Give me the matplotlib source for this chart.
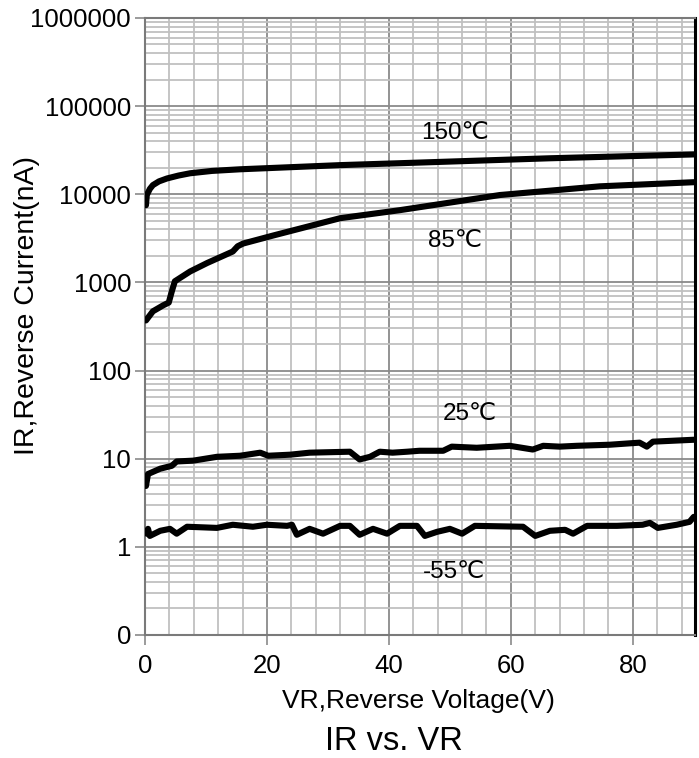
import matplotlib
matplotlib.use("Agg")
import matplotlib.pyplot as plt
import numpy as np
from matplotlib.ticker import FixedLocator, FixedFormatter, LogLocator, MultipleLocator, NullFormatter

plt.rcParams["font.family"] = ["Liberation Sans", "DejaVu Sans"]

# curves: reverse voltage (V) vs reverse current (nA)
v_150 = [0.16, 0.3, 0.8, 1.3, 2.3, 3.6, 5.5, 7.4, 11.0, 15.6, 32.0, 41.8, 66.4, 90.0]
i_150 = [7500, 9800, 11500, 12700, 14000, 15100, 16300, 17300, 18400, 19200, 21400, 22500, 25600, 28300]

v_85 = [0.16, 1.3, 3.0, 3.9, 4.4, 4.9, 7.4, 10.2, 14.4, 15.2, 16.1, 21.0, 32.0, 41.8, 58.2, 74.6, 90.0]
i_85 = [370, 470, 550, 590, 790, 1030, 1330, 1660, 2240, 2570, 2760, 3400, 5350, 6600, 9800, 12300, 13700]

v_25 = [0.16, 0.5, 2.5, 4.4, 5.2, 7.9, 11.8, 15.6, 18.9, 20.2, 23.8, 27.0, 33.6, 35.2, 36.9,
        38.5, 40.6, 43.0, 45.0, 48.9, 50.3, 54.4, 59.8, 63.6, 65.3, 68.0, 70.8, 76.2, 81.1,
        82.3, 83.3, 90.0]
i_25 = [4.9, 6.7, 7.7, 8.3, 9.3, 9.5, 10.5, 10.8, 11.7, 10.8, 11.1, 11.7, 12.0, 9.8, 10.5,
        12.0, 11.7, 12.0, 12.3, 12.3, 13.7, 13.3, 14.0, 12.7, 14.0, 13.7, 14.0, 14.4, 15.2,
        13.7, 15.6, 16.4]

v_m55 = [0.3, 0.5, 0.8, 2.5, 4.1, 5.2, 6.9, 11.8, 14.4, 17.7, 20.0, 23.3, 24.1, 24.9, 27.0,
         29.2, 32.0, 33.6, 35.2, 37.4, 39.7, 41.8, 44.6, 45.9, 47.9, 50.0, 52.0, 54.1, 62.0,
         64.0, 66.4, 68.9, 70.2, 72.5, 77.4, 81.6, 82.8, 84.1, 87.2, 89.3, 90.0]
i_m55 = [1.41, 1.6, 1.33, 1.52, 1.6, 1.41, 1.69, 1.64, 1.78, 1.69, 1.78, 1.73, 1.78, 1.37, 1.6,
         1.41, 1.73, 1.73, 1.37, 1.6, 1.41, 1.73, 1.73, 1.33, 1.48, 1.6, 1.41, 1.73, 1.69,
         1.33, 1.52, 1.56, 1.41, 1.73, 1.73, 1.78, 1.87, 1.64, 1.78, 1.92, 2.19]

labels = ["150℃", "85℃", "25℃", "-55℃"]
label_v = [50.8, 50.8, 53.3, 50.7]
label_i = [49000, 2950, 32.5, 0.52]

y_ticks = [0.1, 1, 10, 100, 1000, 10000, 100000, 1000000]
y_tick_labels = ["0", "1", "10", "100", "1000", "10000", "100000", "1000000"]
x_ticks = [0, 20, 40, 60, 80]

fig = plt.figure(figsize=(6.99, 7.58), dpi=100)
ax = fig.add_axes([0.2074, 0.1623, 0.7869, 0.8140])

ax.set_yscale("log")
ax.set_xlim(0, 90.2)
ax.set_ylim(0.1, 1e6)

ax.yaxis.set_major_locator(FixedLocator(y_ticks))
ax.yaxis.set_major_formatter(FixedFormatter(y_tick_labels))
ax.yaxis.set_minor_locator(LogLocator(base=10, subs=np.arange(2, 10)))
ax.yaxis.set_minor_formatter(NullFormatter())
ax.xaxis.set_major_locator(FixedLocator(x_ticks))
ax.xaxis.set_minor_locator(MultipleLocator(4))

ax.grid(which="major", color="#8a8a8a", linewidth=1.3, zorder=0)
ax.grid(which="minor", color="#c0c0c0", linewidth=1.3, zorder=0)
ax.set_axisbelow(True)

for v, i in [(v_150, i_150), (v_85, i_85), (v_25, i_25), (v_m55, i_m55)]:
    ax.plot(v, i, color="black", linewidth=4.4, solid_joinstyle="round", solid_capstyle="round", zorder=3)

for text, lv, li in zip(labels, label_v, label_i):
    ax.text(lv, li, text, fontsize=17.5, ha="center", va="center", zorder=4)

ax.tick_params(which="major", direction="out", length=7, width=1.2, color="#8a8a8a",
               labelsize=18.5, pad=3)
ax.tick_params(which="minor", length=0)
ax.tick_params(axis="x", pad=7)

for side in ["left", "bottom", "top"]:
    ax.spines[side].set_color("#7a7a7a")
    ax.spines[side].set_linewidth(1.5)
ax.spines["right"].set_color("black")
ax.spines["right"].set_linewidth(2.2)

fig.text(0.0386, 0.5976, "IR,Reverse Current(nA)", fontsize=20.5, rotation=90,
         ha="center", va="center")
fig.text(0.598, 0.066, "VR,Reverse Voltage(V)", fontsize=19, ha="center", va="baseline")
fig.text(0.564, 0.0106, "IR vs. VR", fontsize=23.5, ha="center", va="baseline")

fig.savefig("out.png", dpi=100)
